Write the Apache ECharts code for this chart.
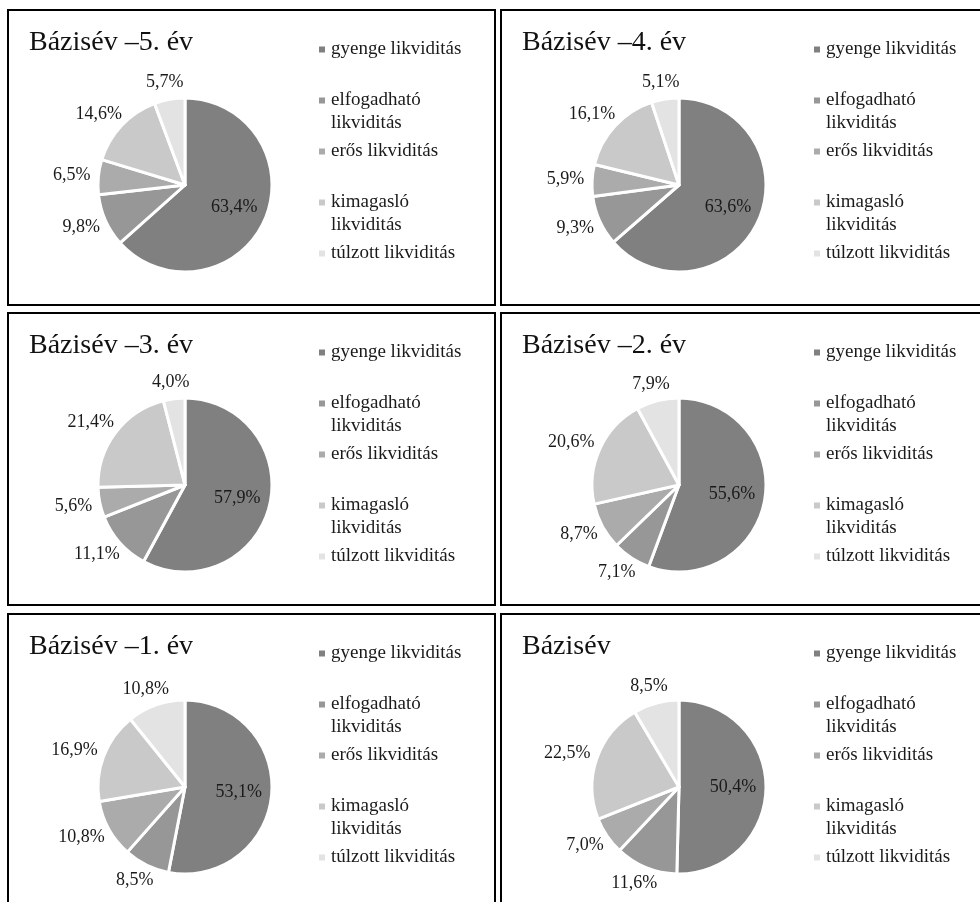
<!DOCTYPE html>
<html>
<head>
<meta charset="utf-8">
<script src="https://cdn.jsdelivr.net/npm/echarts@6/dist/echarts.min.js"></script>
<style>
html,body{margin:0;padding:0;background:#ffffff;}
#chart{width:980px;height:902px;}
</style>
</head>
<body>
<div id="chart"></div>
<script>
// ---- data ----
const categories = ['gyenge likviditás', 'elfogadható likviditás', 'erős likviditás', 'kimagasló likviditás', 'túlzott likviditás'];
const panelTitles = ['Bázisév –5. év', 'Bázisév –4. év', 'Bázisév –3. év', 'Bázisév –2. év', 'Bázisév –1. év', 'Bázisév'];
const valuesYearMinus5 = [63.4, 9.8, 6.5, 14.6, 5.7];
const valuesYearMinus4 = [63.6, 9.3, 5.9, 16.1, 5.1];
const valuesYearMinus3 = [57.9, 11.1, 5.6, 21.4, 4.0];
const valuesYearMinus2 = [55.6, 7.1, 8.7, 20.6, 7.9];
const valuesYearMinus1 = [53.1, 8.5, 10.8, 16.9, 10.8];
const valuesBaseYear  = [50.4, 11.6, 7.0, 22.5, 8.5];
const panelValues = [valuesYearMinus5, valuesYearMinus4, valuesYearMinus3, valuesYearMinus2, valuesYearMinus1, valuesBaseYear];

// ---- style / layout ----
const colors = ['#808080', '#979797', '#ababab', '#c9c9c9', '#e3e3e3'];
const FONT = '"Liberation Serif", "Times New Roman", serif';
const colLeft = [8, 501];
const colWidth = [487, 520];
const rowTop = [10, 313, 614];
const rowHeight = [295, 292, 320];
const pieCx = [185, 679];
const pieCy = [185, 485, 787];
const legendLeft = [317, 812];
const R = 87;

const panels = panelTitles.map((t, i) => ({ col: i % 2, row: Math.floor(i / 2) }));
const centers = panels.map(p => [pieCx[p.col], pieCy[p.row]]);

function fmt(v) { return v.toFixed(1).replace('.', ',') + '%'; }
const multiLine = [categories[1], categories[3]];

const option = {
  animation: false,
  backgroundColor: '#ffffff',
  color: colors,
  graphic: panels.map(p => ({
    type: 'rect', silent: true, z: -1,
    shape: { x: colLeft[p.col], y: rowTop[p.row], width: colWidth[p.col], height: rowHeight[p.row] },
    style: { fill: 'none', stroke: '#000000', lineWidth: 2 }
  })),
  title: panels.map((p, i) => ({
    text: panelTitles[i],
    left: colLeft[p.col] + 21,
    top: rowTop[p.row] + 19,
    padding: 0,
    textStyle: { fontFamily: FONT, fontSize: 28, fontWeight: 'normal', color: '#111111' }
  })),
  legend: panels.map((p, i) => ({
    orient: 'vertical',
    left: legendLeft[p.col],
    top: rowTop[p.row] + 28,
    padding: 0,
    itemGap: 5,
    itemWidth: 8,
    itemHeight: 8,
    icon: 'rect',
    selectedMode: false,
    // two-line entries get an empty first line so the marker sits beside their first text line
    formatter: name => multiLine.indexOf(name) >= 0 ? '\n' + name.replace(' ', '\n') : name,
    textStyle: { fontFamily: FONT, fontSize: 19, lineHeight: 23, color: '#1a1a1a', backgroundColor: 'rgba(255,255,255,0)' },
    data: categories.slice()
  })),
  series: panels.map((p, i) => ({
    type: 'pie',
    name: panelTitles[i],
    center: centers[i],
    radius: [0, R],
    startAngle: 90,
    clockwise: true,
    avoidLabelOverlap: false,
    emphasis: { disabled: true },
    itemStyle: { borderColor: '#ffffff', borderWidth: 3 },
    label: {
      show: true,
      position: 'inside',
      fontFamily: FONT,
      fontSize: 18,
      color: '#1a1a1a',
      formatter: prm => fmt(prm.value)
    },
    labelLine: { show: false },
    labelLayout: function (prm) {
      const c = centers[prm.seriesIndex];
      const lr = prm.labelRect;
      const lx = lr.x + lr.width / 2, ly = lr.y + lr.height / 2;
      let dx = lx - c[0], dy = ly - c[1];
      const len = Math.hypot(dx, dy) || 1;
      dx /= len; dy /= len;
      if (prm.dataIndex === 0) {
        return { x: c[0] + dx * R * 0.62, y: c[1] + dy * R * 0.62, align: 'center', verticalAlign: 'middle' };
      }
      const g = 8;
      return {
        x: c[0] + dx * (R + g) + dx * lr.width / 2,
        y: c[1] + dy * (R + g) + dy * lr.height / 2,
        align: 'center', verticalAlign: 'middle'
      };
    },
    data: categories.map((c, k) => ({ name: c, value: panelValues[i][k] }))
  }))
};

const chart = echarts.init(document.getElementById('chart'), null, { renderer: 'canvas' });
chart.setOption(option);
</script>
</body>
</html>
